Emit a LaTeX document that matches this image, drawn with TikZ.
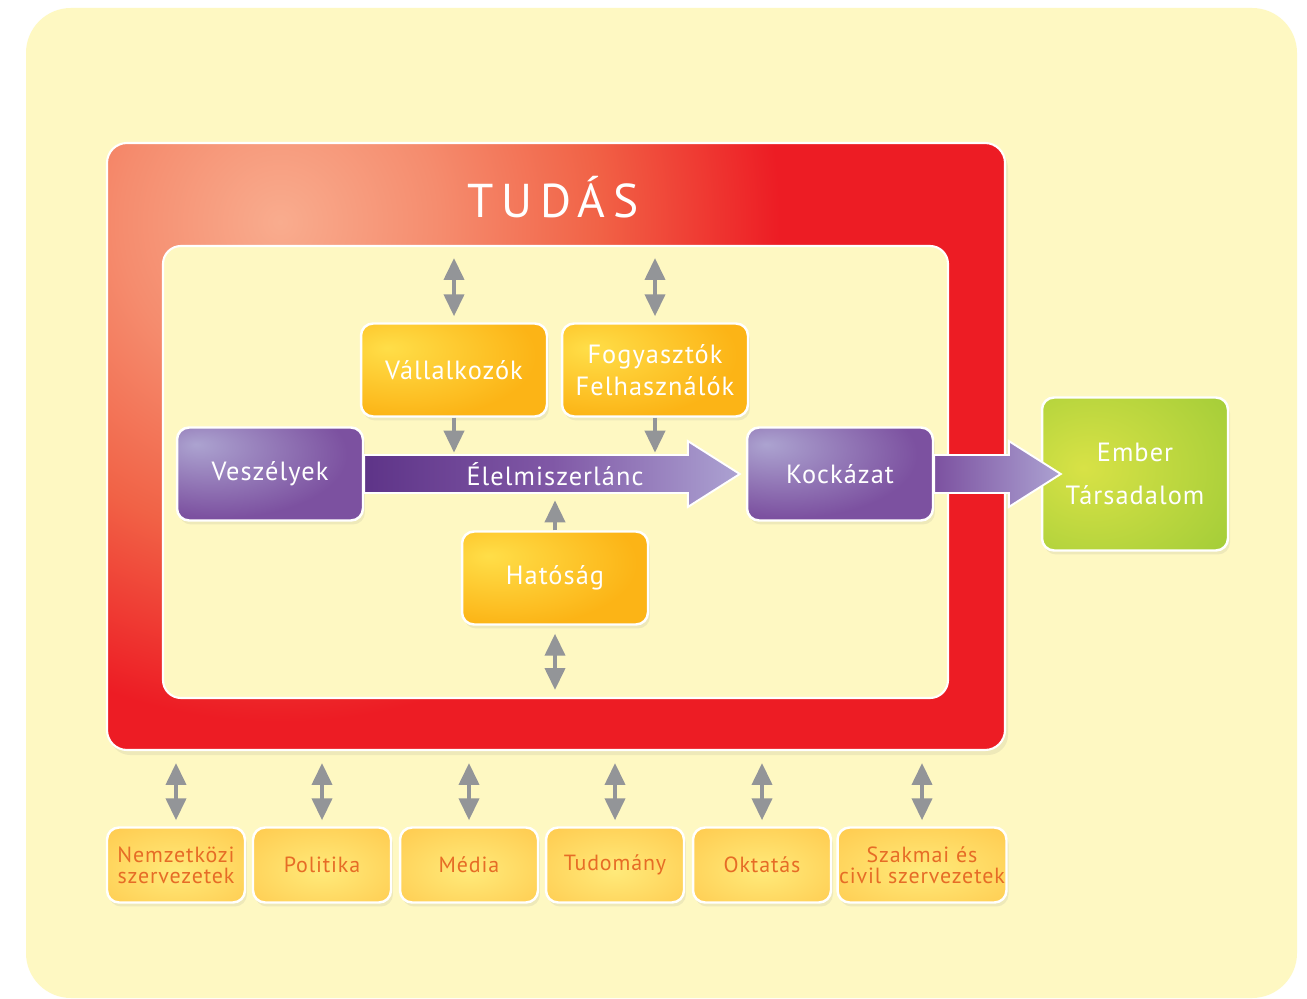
\documentclass[tikz,border=0pt]{standalone}
\usepackage{fontspec}
\setmainfont{PT Sans}
\newfontfamily\boxfont{PT Sans}[LetterSpace=4]
\newfontfamily\tudasfont{PT Sans}[LetterSpace=16]
\usetikzlibrary{arrows.meta}
\usetikzlibrary{calc}
\usetikzlibrary{shadows}

\definecolor{panel}{RGB}{254,248,194}
\definecolor{tred}{RGB}{237,28,36}
\definecolor{salmon}{RGB}{249,172,142}
\definecolor{salmon2}{RGB}{245,140,110}
\definecolor{salmon3}{RGB}{241,98,70}
\definecolor{arrgray}{RGB}{147,149,152}
\definecolor{txtorange}{RGB}{230,108,38}
\definecolor{yellowdark}{RGB}{252,180,22}
\definecolor{yellowlight}{RGB}{255,222,72}
\definecolor{violetdark}{RGB}{124,81,160}
\definecolor{violetlight}{RGB}{172,163,208}
\definecolor{greendark}{RGB}{166,206,57}
\definecolor{greenlight}{RGB}{216,226,70}
\definecolor{bottomdark}{RGB}{255,202,78}
\definecolor{bottomlight}{RGB}{255,234,122}
\definecolor{chain1}{RGB}{94,52,136}
\definecolor{chain2}{RGB}{128,88,166}
\definecolor{chain3}{RGB}{172,162,210}

\pgfdeclareradialshading{glowyellow}{\pgfpoint{-18bp}{12bp}}{color(0bp)=(yellowlight); color(34bp)=(yellowdark); color(100bp)=(yellowdark)}
\pgfdeclareradialshading{glowviolet}{\pgfpoint{-20bp}{16bp}}{color(0bp)=(violetlight); color(34bp)=(violetdark); color(100bp)=(violetdark)}
\pgfdeclareradialshading{glowgreen}{\pgfpoint{-14bp}{2bp}}{color(0bp)=(greenlight); color(40bp)=(greendark); color(100bp)=(greendark)}
\pgfdeclareradialshading{glowbottom}{\pgfpoint{0bp}{-4bp}}{color(0bp)=(bottomlight); color(38bp)=(bottomdark); color(100bp)=(bottomdark)}
\pgfdeclareradialshading{glowtudas}{\pgfpoint{0bp}{0bp}}{color(0bp)=(salmon); color(8bp)=(salmon2); color(16bp)=(salmon3); color(25bp)=(tred); color(100bp)=(tred)}

\begin{document}
\begin{tikzpicture}[x=0.02cm,y=-0.02cm,
  box/.style={rounded corners=0.24cm,draw=white,line width=1.4pt,text=white,
    font=\boxfont\fontsize{15}{18}\selectfont,align=center,inner sep=0pt,
    minimum width=3.72cm,minimum height=1.86cm,shade,
    drop shadow={opacity=0.12,shadow xshift=0.04cm,shadow yshift=-0.08cm}},
  yellowbox/.style={box,shading=glowyellow},
  violetbox/.style={box,shading=glowviolet},
  greenbox/.style={box,shading=glowgreen,minimum height=3.06cm},
  smallbox/.style={box,shading=glowbottom,text=txtorange,
    font=\boxfont\fontsize{12.5}{12}\selectfont,minimum width=2.76cm,minimum height=1.5cm},
  link/.style={draw=arrgray,line width=0.08cm,-{Triangle[width=0.4cm,length=0.44cm]}},
  twoway/.style={link,{Triangle[width=0.4cm,length=0.44cm]}-{Triangle[width=0.4cm,length=0.44cm]}},
  bigarrow/.style={draw=white,line width=1.1pt,line join=miter},
  chaintext/.style={text=white,font=\boxfont\fontsize{15}{18}\selectfont,inner sep=0pt,minimum height=0.76cm}]
  \useasboundingbox (0,0) rectangle (1307,999);
  \fill[white] (0,0) rectangle (1307,999);
  \fill[panel,rounded corners=0.9cm] (26,8) rectangle (1297,998);

  \fill[tred,rounded corners=0.4cm,drop shadow={opacity=0.12,shadow xshift=0.06cm,shadow yshift=-0.1cm}] (107,143) rectangle (1005,750);
  \begin{scope}
    \clip[rounded corners=0.4cm] (107,143) rectangle (1005,750);
    \shade[shading=glowtudas] (280,222) circle (10cm);
  \end{scope}
  \draw[white,line width=1.2pt,rounded corners=0.4cm] (107,143) rectangle (1005,750);
  \filldraw[fill=panel,draw=white,line width=1.2pt,rounded corners=0.36cm] (163,246) rectangle (948,698);
  \coordinate (innertop) at (556,246);
  \coordinate (innerbot) at (556,698);
  \coordinate (framebot) at (556,750);
  \node[text=white,font=\tudasfont\fontsize{27}{30}\selectfont] (tudas) at (553,197) {TUDÁS};

  \node[yellowbox] (vall) at (454,370) {Vállalkozók};
  \node[yellowbox] (fogy) at (655,370) {Fogyasztók\\Felhasználók};
  \node[violetbox] (vesz) at (270,474) {Veszélyek};
  \node[violetbox] (kock) at (840,474) {Kockázat};
  \node[yellowbox] (hat) at (555,578) {Hatóság};
  \node[greenbox] (ember) at (1135,474) {Ember\\[6.5pt]Társadalom};

  \shade[bigarrow,left color=chain1,right color=chain3,middle color=chain2]
    ($(vesz.east)+(0,-19)$) -- ($(kock.west)+(-58,-19)$) -- ($(kock.west)+(-58,-33)$)
    -- ($(kock.west)+(-6,0)$) -- ($(kock.west)+(-58,33)$) -- ($(kock.west)+(-58,19)$)
    -- ($(vesz.east)+(0,19)$) -- cycle;
  \node[chaintext] (lanc) at ($(vesz.east)!0.5!(kock.west)$) {Élelmiszerlánc};
  \shade[bigarrow,left color=violetdark,right color=chain3]
    ($(kock.east)+(0,-19)$) -- ($(ember.west)+(-32,-19)$) -- ($(ember.west)+(-32,-33)$)
    -- ($(ember.west)+(20,0)$) -- ($(ember.west)+(-32,33)$) -- ($(ember.west)+(-32,19)$)
    -- ($(kock.east)+(0,19)$) -- cycle;

  \draw[twoway,shorten <=0.24cm,shorten >=0.12cm] (vall |- innertop) -- (vall);
  \draw[twoway,shorten <=0.24cm,shorten >=0.12cm] (fogy |- innertop) -- (fogy);
  \draw[link,shorten >=0.04cm] (vall) -- (vall |- lanc.north);
  \draw[link,shorten >=0.04cm] (fogy) -- (fogy |- lanc.north);
  \draw[link,shorten >=0.14cm] (hat) -- (hat |- lanc.south);
  \draw[twoway,shorten <=0.16cm,shorten >=0.16cm] (hat) -- (hat |- innerbot);

  \node[smallbox] (nemz) at (176,865) {Nemzetközi\\szervezetek};
  \node[smallbox] (poli) at (322,865) {Politika};
  \node[smallbox] (media) at (469,865) {Média};
  \node[smallbox] (tud) at (615,865) {Tudomány};
  \node[smallbox] (okt) at (762,865) {Oktatás};
  \node[smallbox,minimum width=3.38cm] (szak) at (922,865) {Szakmai és\\civil szervezetek};
  \foreach \b in {nemz,poli,media,tud,okt,szak}
    \draw[twoway,shorten <=0.26cm,shorten >=0.12cm] (\b |- framebot) -- (\b);
\end{tikzpicture}
\end{document}
